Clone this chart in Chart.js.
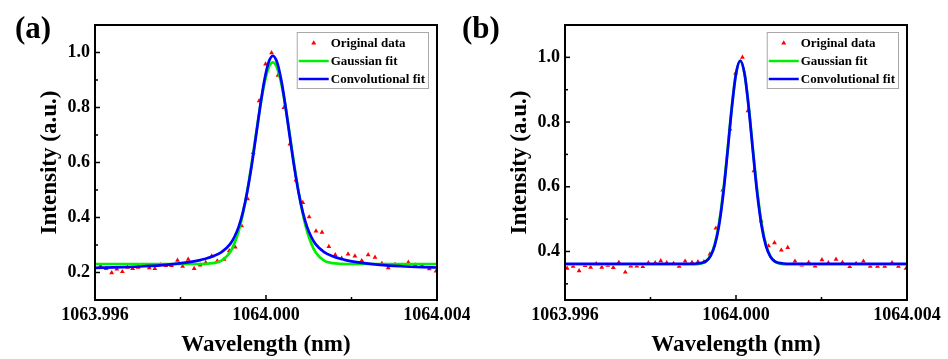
<!DOCTYPE html>
<html>
<head>
<meta charset="utf-8">
<script src="https://cdn.jsdelivr.net/npm/chart.js@4.4.1/dist/chart.umd.min.js"></script>
<style>
  body { margin: 0; background: #fff; }
  #wrap { position: relative; width: 948px; height: 359px; font-family: "Liberation Serif", "Times New Roman", serif; }
  .panel { position: absolute; top: 0; height: 359px; }
  .tag { position: absolute; top: 12px; font-weight: bold; font-size: 31px; line-height: 1; color: #000; }
</style>
</head>
<body>
<div id="wrap">
  <div class="panel" style="left:0;width:470px"><canvas id="chartA" width="470" height="359"></canvas></div>
  <div class="panel" style="left:470px;width:478px"><canvas id="chartB" width="478" height="359"></canvas></div>
  <div class="tag" style="left:15px">(a)</div>
  <div class="tag" style="left:462px">(b)</div>
</div>
<script>
// axis ticks
const xTicks = [1063.996, 1064.000, 1064.004];
const xMinor = [1063.998, 1064.002];
const yTicksA = [0.2, 0.4, 0.6, 0.8, 1.0];
const yMinorA = [0.3, 0.5, 0.7, 0.9];
const yTicksB = [0.4, 0.6, 0.8, 1.0];
const yMinorB = [0.3, 0.5, 0.7, 0.9];

// (a) measured points
const wlA = [1063.99613, 1063.99626, 1063.99639, 1063.99651, 1063.99664, 1063.99676, 1063.99688, 1063.99701,
  1063.99714, 1063.99727, 1063.9974, 1063.99753, 1063.99766, 1063.99779, 1063.99793, 1063.99805,
  1063.99818, 1063.99832, 1063.99846, 1063.99859, 1063.99873, 1063.99886, 1063.99902, 1063.99914,
  1063.99928, 1063.99943, 1063.99957, 1063.9997, 1063.99984, 1063.99999, 1064.00013, 1064.00028,
  1064.00042, 1064.00056, 1064.0007, 1064.00086, 1064.00101, 1064.00117, 1064.00131, 1064.00147,
  1064.00162, 1064.00177, 1064.00192, 1064.00208, 1064.00224, 1064.00239, 1064.00255, 1064.00271,
  1064.00286, 1064.00302, 1064.00317, 1064.00333, 1064.00349, 1064.00365, 1064.00382, 1064.00398];
const intA = [0.224, 0.214, 0.199, 0.212, 0.203, 0.219, 0.214, 0.219,
  0.226, 0.217, 0.214, 0.228, 0.225, 0.225, 0.244, 0.222,
  0.248, 0.214, 0.227, 0.236, 0.260, 0.242, 0.248, 0.279,
  0.292, 0.370, 0.468, 0.636, 0.824, 0.958, 0.999, 0.917,
  0.800, 0.667, 0.536, 0.454, 0.402, 0.351, 0.346, 0.294,
  0.264, 0.252, 0.267, 0.260, 0.243, 0.264, 0.255, 0.233,
  0.217, 0.229, 0.226, 0.237, 0.227, 0.224, 0.213, 0.205];

// (a) fitted curves
const fitXA = [1063.996, 1063.99666, 1063.99716, 1063.99766, 1063.99816, 1063.99846, 1063.99856, 1063.99876,
  1063.99896, 1063.99916, 1063.99926, 1063.99936, 1063.99946, 1063.99956, 1063.99966, 1063.99976,
  1063.99986, 1063.99996, 1064.00006, 1064.00016, 1064.00026, 1064.00036, 1064.00046, 1064.00056,
  1064.00066, 1064.00076, 1064.00086, 1064.00096, 1064.00106, 1064.00116, 1064.00136, 1064.00156,
  1064.00176, 1064.00186, 1064.00216, 1064.00266, 1064.00316, 1064.00366, 1064.004];
const gaussA = [0.231, 0.231, 0.231, 0.231, 0.231, 0.231, 0.2315, 0.234,
  0.243, 0.274, 0.305, 0.350, 0.414, 0.495, 0.592, 0.697,
  0.799, 0.886, 0.944, 0.964, 0.944, 0.886, 0.799, 0.697,
  0.592, 0.495, 0.414, 0.350, 0.305, 0.274, 0.243, 0.234,
  0.2315, 0.231, 0.231, 0.231, 0.231, 0.231, 0.231];
const convA = [0.217, 0.2196, 0.2228, 0.2278, 0.2366, 0.245, 0.249, 0.259,
  0.274, 0.303, 0.329, 0.366, 0.420, 0.493, 0.584, 0.690,
  0.800, 0.897, 0.964, 0.988, 0.964, 0.897, 0.800, 0.690,
  0.584, 0.493, 0.420, 0.366, 0.329, 0.303, 0.274, 0.259,
  0.249, 0.245, 0.2366, 0.2278, 0.2228, 0.2196, 0.2181];

// (b) measured points
const wlB = [1063.99605, 1063.99619, 1063.99633, 1063.99647, 1063.9966, 1063.99673, 1063.99686, 1063.997,
  1063.99713, 1063.99726, 1063.99741, 1063.99754, 1063.99768, 1063.99782, 1063.99795, 1063.99811,
  1063.99824, 1063.99838, 1063.99854, 1063.99867, 1063.99881, 1063.99897, 1063.99911, 1063.99925,
  1063.99939, 1063.99953, 1063.99969, 1063.99986, 1063.99999, 1064.00015, 1064.00028, 1064.00042,
  1064.00059, 1064.00076, 1064.0009, 1064.00106, 1064.00121, 1064.00138, 1064.00154, 1064.0017,
  1064.00185, 1064.00201, 1064.00216, 1064.00234, 1064.00249, 1064.00266, 1064.00281, 1064.00298,
  1064.00314, 1064.00331, 1064.00348, 1064.00365, 1064.0038, 1064.00398];
const intB = [0.348, 0.354, 0.340, 0.356, 0.351, 0.362, 0.351, 0.357,
  0.350, 0.366, 0.336, 0.355, 0.355, 0.353, 0.365, 0.365,
  0.371, 0.365, 0.363, 0.354, 0.370, 0.366, 0.368, 0.368,
  0.392, 0.472, 0.590, 0.778, 0.951, 1.000, 0.835, 0.649,
  0.495, 0.417, 0.427, 0.404, 0.412, 0.370, 0.358, 0.366,
  0.355, 0.374, 0.365, 0.376, 0.366, 0.353, 0.363, 0.370,
  0.354, 0.354, 0.354, 0.365, 0.354, 0.348];

// (b) fitted curves
const fitXB = [1063.996, 1063.998, 1063.9989, 1063.9991, 1063.9992, 1063.9993, 1063.9994, 1063.9995,
  1063.9996, 1063.9997, 1063.9998, 1063.9999, 1064.0000, 1064.0001, 1064.0002, 1064.0003,
  1064.0004, 1064.0005, 1064.0006, 1064.0007, 1064.0008, 1064.0009, 1064.001, 1064.0011,
  1064.0013, 1064.002, 1064.004];
const gaussB = [0.360, 0.360, 0.360, 0.361, 0.3634, 0.370, 0.3866, 0.4215,
  0.485, 0.584, 0.711, 0.845, 0.949, 0.988, 0.949, 0.845,
  0.711, 0.584, 0.485, 0.4215, 0.3866, 0.370, 0.3634, 0.361,
  0.360, 0.360, 0.360];
const convB = [0.362, 0.362, 0.362, 0.3628, 0.3646, 0.370, 0.385, 0.417,
  0.478, 0.575, 0.704, 0.841, 0.949, 0.990, 0.949, 0.841,
  0.704, 0.575, 0.478, 0.417, 0.385, 0.370, 0.3646, 0.3628,
  0.362, 0.362, 0.362];

Chart.defaults.font.family = '"Liberation Serif", "Times New Roman", serif';
Chart.defaults.font.weight = 'bold';
Chart.defaults.color = '#000';

function pairs(xs, ys) {
  return xs.map((x, i) => ({ x: x, y: ys[i] }));
}

// frame box and inward ticks
const frameTicks = {
  id: 'frameTicks',
  afterDatasetsDraw(chart, args, opts) {
    const { ctx, chartArea: a, scales: { x, y } } = chart;
    ctx.save();
    ctx.strokeStyle = '#000';
    ctx.lineWidth = 1.5;
    const seg = (x1, y1, x2, y2) => { ctx.beginPath(); ctx.moveTo(x1, y1); ctx.lineTo(x2, y2); ctx.stroke(); };
    opts.xMajor.forEach(v => { const p = x.getPixelForValue(v); seg(p, a.bottom, p, a.bottom - 5); });
    opts.xMinor.forEach(v => { const p = x.getPixelForValue(v); seg(p, a.bottom, p, a.bottom - 3); });
    opts.yMajor.forEach(v => { const p = y.getPixelForValue(v); seg(a.left, p, a.left + 5, p); });
    opts.yMinor.forEach(v => { const p = y.getPixelForValue(v); seg(a.left, p, a.left + 3, p); });
    ctx.lineWidth = 2;
    ctx.strokeRect(a.left, a.top, a.width, a.height);
    ctx.restore();
  }
};

// legend in a grey box, top right of the plot
const boxLegend = {
  id: 'boxLegend',
  afterDraw(chart) {
    const { ctx, chartArea: a } = chart;
    const sets = chart.data.datasets;
    ctx.save();
    ctx.font = 'bold 13px "Liberation Serif", serif';
    const textW = Math.max(...sets.map(d => ctx.measureText(d.label).width));
    const right = a.right - 9;
    const top = a.top + 7;
    const left = right - textW - 37;
    const rowH = 18;
    ctx.fillStyle = '#fff';
    ctx.fillRect(left, top, right - left, 56);
    ctx.strokeStyle = '#a8a8a8';
    ctx.lineWidth = 1;
    ctx.strokeRect(left + 0.5, top + 0.5, right - left, 56);
    sets.forEach((d, i) => {
      const cy = top + 11 + i * rowH;
      if (d.showLine) {
        ctx.strokeStyle = d.borderColor;
        ctx.lineWidth = 2.5;
        ctx.beginPath();
        ctx.moveTo(left + 2, cy);
        ctx.lineTo(left + 32, cy);
        ctx.stroke();
      } else {
        const cx = left + 17;
        ctx.fillStyle = d.backgroundColor;
        ctx.beginPath();
        ctx.moveTo(cx, cy - 2.8);
        ctx.lineTo(cx + 2.5, cy + 1.6);
        ctx.lineTo(cx - 2.5, cy + 1.6);
        ctx.closePath();
        ctx.fill();
      }
      ctx.fillStyle = '#000';
      ctx.textBaseline = 'middle';
      ctx.fillText(d.label, left + 34, cy + 1);
    });
    ctx.restore();
  }
};

function makeChart(id, rightPad, pts, fitX, gauss, conv, yMin, yMax, yMajor, yMinor) {
  const ctx = document.getElementById(id).getContext('2d');
  return new Chart(ctx, {
    type: 'scatter',
    data: {
      datasets: [
        {
          label: 'Original data',
          data: pts,
          showLine: false,
          pointStyle: 'triangle',
          pointRadius: 2.8,
          pointBorderWidth: 0,
          backgroundColor: '#ff0000',
          borderColor: '#ff0000',
          order: 3
        },
        {
          label: 'Gaussian fit',
          data: pairs(fitX, gauss),
          showLine: true,
          pointRadius: 0,
          borderColor: '#00ee00',
          backgroundColor: '#00ee00',
          borderWidth: 2.7,
          cubicInterpolationMode: 'monotone',
          order: 2
        },
        {
          label: 'Convolutional fit',
          data: pairs(fitX, conv),
          showLine: true,
          pointRadius: 0,
          borderColor: '#0000ff',
          backgroundColor: '#0000ff',
          borderWidth: 2.7,
          cubicInterpolationMode: 'monotone',
          order: 1
        }
      ]
    },
    options: {
      responsive: false,
      animation: false,
      devicePixelRatio: 1,
      layout: { padding: { top: 25, right: rightPad, left: 0, bottom: 0 } },
      plugins: {
        legend: { display: false },
        tooltip: { enabled: false },
        frameTicks: { xMajor: xTicks, xMinor: xMinor, yMajor: yMajor, yMinor: yMinor }
      },
      scales: {
        x: {
          type: 'linear',
          min: 1063.996,
          max: 1064.004,
          grid: { display: false, drawTicks: false },
          border: { display: false },
          afterBuildTicks: s => { s.ticks = xTicks.map(v => ({ value: v })); },
          afterFit: s => { s.height = 59; s.paddingLeft = 0; s.paddingRight = 0; },
          ticks: {
            maxRotation: 0,
            autoSkip: false,
            padding: 5,
            font: { size: 18, weight: 'bold' },
            callback: v => v.toFixed(3)
          },
          title: {
            display: true,
            text: 'Wavelength (nm)',
            font: { size: 23, weight: 'bold' },
            padding: { top: 0, bottom: 0 }
          }
        },
        y: {
          min: yMin,
          max: yMax,
          grid: { display: false, drawTicks: false },
          border: { display: false },
          afterBuildTicks: s => { s.ticks = yMajor.map(v => ({ value: v })); },
          afterFit: s => { s.width = 95; s.paddingTop = 0; s.paddingBottom = 0; },
          ticks: {
            padding: 5,
            font: { size: 18, weight: 'bold' },
            callback: v => v.toFixed(1)
          },
          title: {
            display: true,
            text: 'Intensity (a.u.)',
            font: { size: 23, weight: 'bold' },
            padding: { top: 36, bottom: 0 }
          }
        }
      }
    },
    plugins: [frameTicks, boxLegend]
  });
}

makeChart('chartA', 33, pairs(wlA, intA), fitXA, gaussA, convA, 0.1, 1.1, yTicksA, yMinorA);
makeChart('chartB', 41, pairs(wlB, intB), fitXB, gaussB, convB, 0.25, 1.1, yTicksB, yMinorB);
</script>
</body>
</html>
